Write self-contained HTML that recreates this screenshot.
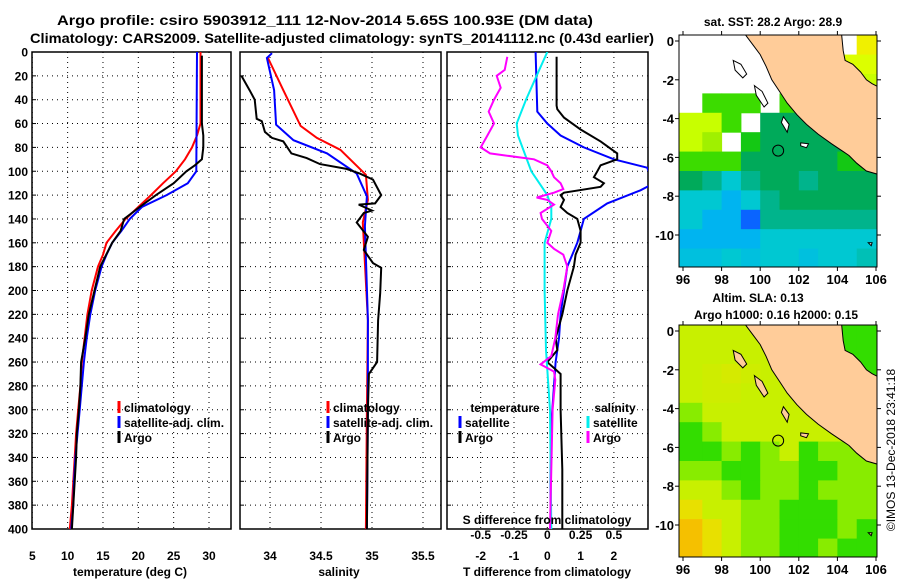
<!DOCTYPE html>
<html><head><meta charset="utf-8">
<style>
html,body{margin:0;padding:0;background:#fff;}
svg{display:block;font-family:"Liberation Sans",Arial,sans-serif;font-weight:bold;}
</style></head>
<body>
<svg id="fig" width="900" height="580" viewBox="0 0 900 580" xmlns="http://www.w3.org/2000/svg">
<text x="325" y="25" font-size="14" text-anchor="middle" textLength="536" lengthAdjust="spacingAndGlyphs">Argo profile: csiro 5903912_111 12-Nov-2014 5.65S 100.93E (DM data)</text>
<text x="342" y="43" font-size="14" text-anchor="middle" textLength="624" lengthAdjust="spacingAndGlyphs">Climatology: CARS2009. Satellite-adjusted climatology: synTS_20141112.nc (0.43d earlier)</text>
<g id="layer"></g>
</svg>
<script>
// ---------- DATA ----------
const tClimDepth = [0,60,70,80,90,100,110,120,130,140,150,160,170,180,200,220,240,260,280,300,320,340,360,380,400];
const tClimVal   = [28.8,28.8,28.3,27.6,26.6,25.3,23.5,21.8,20.0,18.2,16.8,15.5,15.0,14.3,13.4,12.8,12.4,12.0,11.8,11.5,11.2,11.0,10.8,10.6,10.3];
const tSatDepth  = [0,100,110,120,130,140,150,160,170,180,200,220,240,260,280,300,320,340,360,380,400];
const tSatVal    = [28.3,28.2,27.0,24.0,20.5,18.8,17.6,16.3,15.5,14.8,13.9,13.2,12.7,12.3,12.0,11.7,11.4,11.1,10.9,10.8,10.5];
const tArgoDepth = [3,60,70,80,90,95,100,110,120,130,140,150,160,180,200,220,240,260,280,300,320,340,360,380,400];
const tArgoVal   = [29.0,29.0,29.2,29.2,29.0,28.0,26.8,25.0,22.5,20.2,18.0,17.5,16.3,14.6,13.8,13.0,12.5,11.9,11.8,11.6,11.3,11.2,11.0,10.8,10.6];
const sClimDepth = [5,32,62,72,82,103,124,143,225,300,400];
const sClimVal   = [33.98,34.13,34.30,34.46,34.69,34.94,34.96,34.91,34.96,34.95,34.94];
const sSatDepth  = [1,5,32,61,74,85,102,121,146,225,300,400];
const sSatVal    = [34.02,33.97,34.04,34.06,34.23,34.56,34.85,34.95,34.93,34.96,34.96,34.95];
const sArgoDepth = [20,32,40,56,58,67,72,75,85,89,94,98,102,107,120,127,128,133,135,143,155,166,177,181,202,225,260,270,300,400];
const sArgoVal   = [33.72,33.80,33.85,33.87,33.92,33.95,34.02,34.13,34.21,34.36,34.49,34.75,34.88,35.01,35.09,35.03,34.87,35.00,34.92,34.85,34.96,34.92,35.01,35.09,35.08,35.06,35.05,34.97,34.96,34.95];
const dTSatDepth = [0,50,60,70,80,90,97,110,116,127,140,150,160,180,200,220,240,260,280,300,320,400];
const dTSatVal   = [-0.35,-0.3,0.0,0.4,1.1,2.0,3.0,3.2,2.8,1.8,1.1,1.0,0.9,0.6,0.5,0.4,0.35,0.25,0.2,0.15,0.1,0.1];
const dTArgoDepth = [4,45,48,55,65,75,85,90,95,100,105,110,113,118,120,124,130,135,140,150,160,170,180,200,220,240,250,260,265,270,300,350,400];
const dTArgoVal   = [0.28,0.28,0.3,0.5,1.0,1.6,2.1,2.1,1.6,1.5,1.4,1.7,1.6,0.5,0.4,0.5,0.4,0.6,0.9,1.0,1.0,0.85,0.8,0.6,0.45,0.25,0.3,0.0,0.2,0.4,0.4,0.45,0.45];
const dSSatDepth = [0,20,40,60,70,100,115,120,130,140,160,200,250,300,400];
const dSSatVal   = [0.0,-0.08,-0.16,-0.23,-0.22,-0.12,-0.03,0.0,0.03,0.03,-0.02,-0.02,-0.01,0.02,0.03];
const dSArgoDepth = [4,15,20,30,40,50,60,70,80,85,90,95,100,105,110,115,118,122,124,128,135,140,150,160,165,170,180,200,220,240,255,262,268,275,300,350,400];
const dSArgoVal   = [-0.30,-0.32,-0.38,-0.35,-0.4,-0.44,-0.4,-0.45,-0.5,-0.43,-0.1,0.0,0.03,0.05,0.1,0.12,0.05,-0.08,0.0,0.05,-0.05,-0.04,0.03,0.0,0.05,0.12,0.15,0.12,0.08,0.06,0.03,-0.05,0.05,0.06,0.04,0.03,0.02];
const depthTicks = [0,20,40,60,80,100,120,140,160,180,200,220,240,260,280,300,320,340,360,380,400];
const tTicks = [5,10,15,20,25,30];
const sTicks = [34,34.5,35,35.5];
const dTTicks = [-2,-1,0,1,2];
const dSTicks = [-0.5,-0.25,0,0.25,0.5];
const dSTickLabels = ["-0.5","-0.25","0","0.25","0.5"];
const lonTicks = [96,98,100,102,104,106];
const latTicks = [0,-2,-4,-6,-8,-10];
const sstGrid = [
 [null,null,null,null,null,null,null,null,null,6],
 [null,null,null,null,null,null,null,null,5.5,5.5],
 [null,null,null,null,null,null,null,null,5,5],
 [null,4,4,4,null,4,null,null,null,4.5],
 [5,5,4,null,3,3,3,3,null,4],
 [5,4.5,null,3.5,3,3,3,3,3,3.5],
 [4,4,4,3,3,3,3,3,3.5,3.5],
 [3,2.5,2,2.5,3,3,2.5,3,3,3],
 [2,2,1.5,2,2.5,3,3,3,3,3],
 [2,1.5,1.5,1,2.5,2.5,2.5,2.5,2.5,2.5],
 [1.5,1.5,1.5,1.5,2,2,2,2,2,2],
 [1.8,1.8,2,1.8,2,2,1.8,2,2,2.2]];
const slaGrid = [
 [4.5,4.5,4.5,4.5,4.5,4.5,4.5,3.5,3.5,3.5],
 [4.5,4.5,4.5,4.5,4.5,4.5,4.5,3.5,3.5,3.5],
 [4.5,4.6,4.7,4.6,4.5,4.5,4.5,4.2,3.5,3.5],
 [4.5,4.6,4.6,4.5,4.5,4.5,4.5,4.5,4.2,3.8],
 [4,4.5,4.5,4.5,4.5,4.5,4.5,4.5,4.5,4.2],
 [3.5,4,4.5,4.5,4.5,4.5,4.5,4.5,4.5,4.2],
 [3.5,3.5,4,3.5,4,4.5,3.5,4,4,4],
 [4,4,3.5,3.5,4,4,3.5,3.5,4,4],
 [4.5,4.5,4,3.5,4,4,3.5,4,4,4],
 [5,4.5,4.5,4,4,3.5,3.5,3.5,4,4],
 [5.5,5,4.5,4,4,3.5,3.5,3.5,4,3.5],
 [5.5,5,4.5,4,4,3.5,3.5,4,3.5,3.5]];
const argoPos = [100.93,-5.65];

// ---------- DRAW ----------
const NS="http://www.w3.org/2000/svg";
const layer=document.getElementById('layer');
function mk(tag,attrs,parent){const e=document.createElementNS(NS,tag);for(const k in attrs)e.setAttribute(k,attrs[k]);(parent||layer).appendChild(e);return e;}
const Y0=52,Y1=529;
const yD=d=>Y0+(d/400)*(Y1-Y0);
function lin(d0,d1,r0,r1){return v=>r0+(v-d0)/(d1-d0)*(r1-r0);}

function panel(name,x0,x1,xs,ticks,labels,showY,clipId){
  const g=mk('g',{});
  
  
  const cp=mk('clipPath',{id:clipId},g);
  mk('rect',{x:x0,y:Y0,width:x1-x0,height:Y1-Y0},cp);
  depthTicks.forEach((d,i)=>{
    if(d>0&&d<400){const l=mk('line',{x1:x0,x2:x1,y1:yD(d),y2:yD(d),stroke:'#000','stroke-width':1,'stroke-dasharray':'1,4'},g);
    
    }
    const tk=mk('line',{x1:x0,x2:x0+4,y1:yD(d),y2:yD(d),stroke:'#000'},g);
    
    
    if(showY){const t=mk('text',{x:x0-4,y:yD(d)+4.5,'font-size':12,'text-anchor':'end'},g);t.textContent=d;
      
      }
  });
  ticks.forEach((v,i)=>{
    const x=xs(v);
    const l=mk('line',{x1:x,x2:x,y1:Y0,y2:Y1,stroke:'#000','stroke-dasharray':'1,4'},g);
    
    
    const t=mk('text',{x:x,y:560,'font-size':12,'text-anchor':'middle'},g);t.textContent=labels[i];
    
    
  });
  const fr=mk('rect',{x:x0,y:Y0,width:x1-x0,height:Y1-Y0,fill:'none',stroke:'#000','stroke-width':1.5},g);
  
  
  return g;
}
function series(g,name,depths,vals,xs,color,clipId){
  const pts=depths.map((d,i)=>xs(vals[i]).toFixed(1)+','+yD(d).toFixed(1)).join(' ');
  const p=mk('polyline',{points:pts,fill:'none',stroke:color,'stroke-width':2,'clip-path':'url(#'+clipId+')'},g);
  
  
}
function legendEntry(g,x,y,color,label){
  const b=mk('line',{x1:x,x2:x,y1:y-11,y2:y+1,stroke:color,'stroke-width':3},g);
  
  
  const t=mk('text',{x:x+5,y:y,'font-size':12},g);t.textContent=label;
  
  
}
function txt(g,x,y,s,size,anchor,name){const t=mk('text',{x:x,y:y,'font-size':size,'text-anchor':anchor},g);t.textContent=s;
  
  return t;}

const xT=lin(5,30,32.3,209);
const g1=panel('temperature-panel',32,231,xT,tTicks,tTicks.map(String),true,'c1');
series(g1,'temp-climatology-line',tClimDepth,tClimVal,xT,'#f00','c1');
series(g1,'temp-satellite-line',tSatDepth,tSatVal,xT,'#00f','c1');
series(g1,'temp-argo-line',tArgoDepth,tArgoVal,xT,'#000','c1');
legendEntry(g1,119,412,'#f00','climatology');
legendEntry(g1,119,427,'#00f','satellite-adj. clim.');
legendEntry(g1,119,442,'#000','Argo');
txt(g1,130,576,'temperature (deg C)',12,'middle','x-axis-title-temperature');

const xS=lin(34,35,270,372);
const g2=panel('salinity-panel',240,441,xS,sTicks,sTicks.map(String),false,'c2');
series(g2,'sal-climatology-line',sClimDepth,sClimVal,xS,'#f00','c2');
series(g2,'sal-satellite-line',sSatDepth,sSatVal,xS,'#00f','c2');
series(g2,'sal-argo-line',sArgoDepth,sArgoVal,xS,'#000','c2');
legendEntry(g2,328,412,'#f00','climatology');
legendEntry(g2,328,427,'#00f','satellite-adj. clim.');
legendEntry(g2,328,442,'#000','Argo');
txt(g2,339,576,'salinity',12,'middle','x-axis-title-salinity');

const xdT=lin(0,1,547.3,580.6);
const xdS=lin(0,0.25,547.3,580.6);
const g3=panel('difference-panel',447,648,xdT,dTTicks,dTTicks.map(String),false,'c3');
series(g3,'tdiff-satellite-line',dTSatDepth,dTSatVal,xdT,'#00f','c3');
series(g3,'tdiff-argo-line',dTArgoDepth,dTArgoVal,xdT,'#000','c3');
series(g3,'sdiff-satellite-line',dSSatDepth,dSSatVal,xdS,'#0ee','c3');
series(g3,'sdiff-argo-line',dSArgoDepth,dSArgoVal,xdS,'#f0f','c3');
txt(g3,505,412,'temperature',12,'middle','legend-title-temperature');
txt(g3,615,412,'salinity',12,'middle','legend-title-salinity');
legendEntry(g3,460,427,'#00f','satellite');
legendEntry(g3,460,442,'#000','Argo');
legendEntry(g3,588,427,'#0ee','satellite');
legendEntry(g3,588,442,'#f0f','Argo');
txt(g3,547,524,'S difference from climatology',12,'middle','s-diff-axis-title');
dSTicks.forEach((v,i)=>txt(g3,xdS(v),539,dSTickLabels[i],12,'middle','s-diff-tick-label'));
txt(g3,547,576,'T difference from climatology',12,'middle','x-axis-title-tdiff');

const sstStops=[[1,[10,100,255]],[1.5,[0,180,240]],[2,[0,200,210]],[2.5,[0,180,140]],[3,[0,170,90]],[3.5,[20,200,20]],[4,[60,220,0]],[4.5,[160,240,0]],[5,[200,255,0]],[5.5,[220,255,0]],[6,[240,240,0]]];
const slaStops=[[3.5,[51,221,0]],[4,[136,236,0]],[4.5,[200,240,0]],[5,[232,224,0]],[5.5,[245,192,0]]];
function cmap(stops,v){if(v<=stops[0][0])return 'rgb('+stops[0][1]+')';
  for(let i=1;i<stops.length;i++){if(v<=stops[i][0]){const a=stops[i-1],b=stops[i],f=(v-a[0])/(b[0]-a[0]);
    return 'rgb('+a[1].map((c,k)=>Math.round(c+(b[1][k]-c)*f)).join(',')+')';}}
  return 'rgb('+stops[stops.length-1][1]+')';}
const land=[[99.1,0.5],[99.4,0.1],[99.7,-0.3],[100,-0.7],[100.3,-1.3],[100.6,-2],[101,-2.6],[101.4,-3.2],[101.9,-3.8],[102.4,-4.3],[103,-4.8],[103.7,-5.3],[104.3,-5.7],[104.6,-5.9],[105,-6.3],[105.5,-6.7],[106.2,-6.9],[106.2,-2.4],[105.8,-2.2],[105.5,-2.0],[105.2,-1.6],[104.8,-1.2],[104.4,-1.0],[104.3,-0.5],[104.2,0.5]];
const islands=[[[98.6,-1.0],[99.0,-1.2],[99.3,-1.7],[99.1,-1.9],[98.7,-1.5]],[[99.7,-2.3],[100.1,-2.6],[100.4,-3.2],[100.2,-3.4],[99.8,-2.8]],[[101.2,-3.9],[101.5,-4.3],[101.4,-4.7],[101.1,-4.2]],[[102.1,-5.25],[102.5,-5.3],[102.4,-5.5],[102.1,-5.4]],[[105.6,-10.4],[105.8,-10.4],[105.75,-10.55]]];
function drawMap(name,fy0,grid,stops,titles,labelY,islandFill){
  const fx0=679,fx1=877,fy1=fy0+232;
  const lx=lin(96,106,683,876), ly=lin(0,-10,fy0+6,fy0+200);
  const g=mk('g',{});
  
  
  const id=name+'-clip';
  const cp=mk('clipPath',{id:id},g);
  mk('rect',{x:fx0,y:fy0,width:fx1-fx0,height:fy1-fy0},cp);
  const cg=mk('g',{'clip-path':'url(#'+id+')'},g);
  grid.forEach((row,r)=>row.forEach((v,c)=>{
    if(v===null)return;
    const x=c===0?fx0:lx(96+c), x2=lx(97+c)+0.5, y=ly(0.3-r), y2=ly(-0.7-r)+0.5;
    const cell=mk('rect',{x:x,y:y,width:x2-x,height:y2-y,fill:cmap(stops,v)},cg);
    
    
  }));
  const lp=mk('polygon',{points:land.map(p=>lx(p[0]).toFixed(1)+','+ly(p[1]).toFixed(1)).join(' '),fill:'#ffcc99',stroke:'#000','stroke-width':1},cg);
  
  
  islands.forEach(is=>{const ip=mk('polygon',{points:is.map(p=>lx(p[0]).toFixed(1)+','+ly(p[1]).toFixed(1)).join(' '),fill:islandFill,stroke:'#000','stroke-width':1},cg);
    
    });
  const ci=mk('circle',{cx:lx(argoPos[0]),cy:ly(argoPos[1]),r:5.5,fill:'none',stroke:'#000','stroke-width':1},g);
  
  
  const fr=mk('rect',{x:fx0,y:fy0,width:fx1-fx0,height:fy1-fy0,fill:'none',stroke:'#000','stroke-width':1},g);
  
  
  latTicks.forEach(v=>{const y=ly(v);mk('line',{x1:fx0-4,x2:fx0,y1:y,y2:y,stroke:'#000'},g);mk('line',{x1:fx1,x2:fx1+4,y1:y,y2:y,stroke:'#000'},g);
    txt(g,fx0-5,y+5,String(v),13,'end','lat-tick-label');});
  lonTicks.forEach(v=>{const x=lx(v);mk('line',{x1:x,x2:x,y1:fy0-4,y2:fy0,stroke:'#000'},g);mk('line',{x1:x,x2:x,y1:fy1,y2:fy1+4,stroke:'#000'},g);
    txt(g,x,labelY,String(v),13,'middle','lon-tick-label');});
  titles.forEach(t=>txt(g,t[0],t[1],t[2],12,'middle','map-title'));
}
drawMap('sst-map',35,sstGrid,sstStops,[[773,26,'sat. SST: 28.2 Argo: 28.9']],284,'#ffffff');
drawMap('sla-map',325,slaGrid,slaStops,[[758,302,'Altim. SLA: 0.13'],[776,319,'Argo h1000: 0.16 h2000: 0.15']],574,'#ffcc99');
const cr=txt(layer,0,0,'©IMOS 13-Dec-2018 23:41:18',12,'middle','copyright-stamp');
cr.setAttribute('font-weight','normal');
cr.setAttribute('transform','translate(895,450) rotate(-90)');
</script>
</body></html>
